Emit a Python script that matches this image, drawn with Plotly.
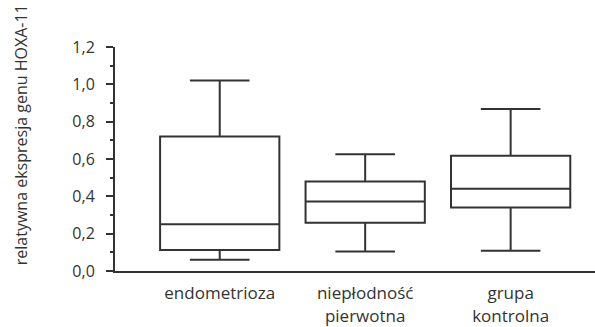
import plotly.graph_objects as go

categories = ["endometrioza", "niepłodność<br>pierwotna", "grupa<br>kontrolna"]
lower = [0.06, 0.105, 0.108]
q1 = [0.113, 0.259, 0.34]
median = [0.25, 0.372, 0.44]
q3 = [0.72, 0.48, 0.618]
upper = [1.02, 0.625, 0.868]
yticks = [0.0, 0.2, 0.4, 0.6, 0.8, 1.0, 1.2]
ytitle = "relatywna ekspresja genu HOXA-11"

font = "'Open Sans', sans-serif"
txt = "#333333"
xpos = list(range(len(categories)))
fig = go.Figure()
fig.add_trace(go.Box(
    x=xpos, q1=q1, median=median, q3=q3, lowerfence=lower, upperfence=upper,
    fillcolor="white", line=dict(color="#333333", width=2),
    whiskerwidth=0.5, width=0.82, boxpoints=False, showlegend=False,
    hoverinfo="skip",
))

fig.update_layout(
    width=595, height=327,
    margin=dict(l=115, r=0, t=47, b=54),
    paper_bgcolor="white", plot_bgcolor="white",
    separators=", ",
    font=dict(family=font, color=txt, size=16),
    xaxis=dict(
        range=[-0.72, 2.58], tickvals=xpos, ticktext=categories,
        showline=True, linecolor="#333333", linewidth=2,
        ticks="", showgrid=False, zeroline=False,
        ticklabelstandoff=6,
        tickfont=dict(size=17, color=txt),
    ),
    yaxis=dict(
        range=[0, 1.2], tickvals=yticks, tickformat=".1f",
        showline=True, linecolor="#333333", linewidth=2,
        ticks="outside", ticklen=7, tickwidth=2, tickcolor="#333333",
        ticklabelstandoff=8,
        minor=dict(dtick=0.1, ticks="outside", ticklen=3, tickwidth=1.5, tickcolor="#333333"),
        showgrid=False, zeroline=False,
        tickfont=dict(size=16, color=txt),
    ),
    annotations=[dict(
        text=ytitle, xref="paper", yref="paper",
        x=(21 - 115) / 480, y=(273 - 136) / 226,
        showarrow=False, textangle=-90,
        font=dict(size=16, color=txt, family=font),
        xanchor="center", yanchor="middle",
    )],
)

fig.write_html("out.html")
